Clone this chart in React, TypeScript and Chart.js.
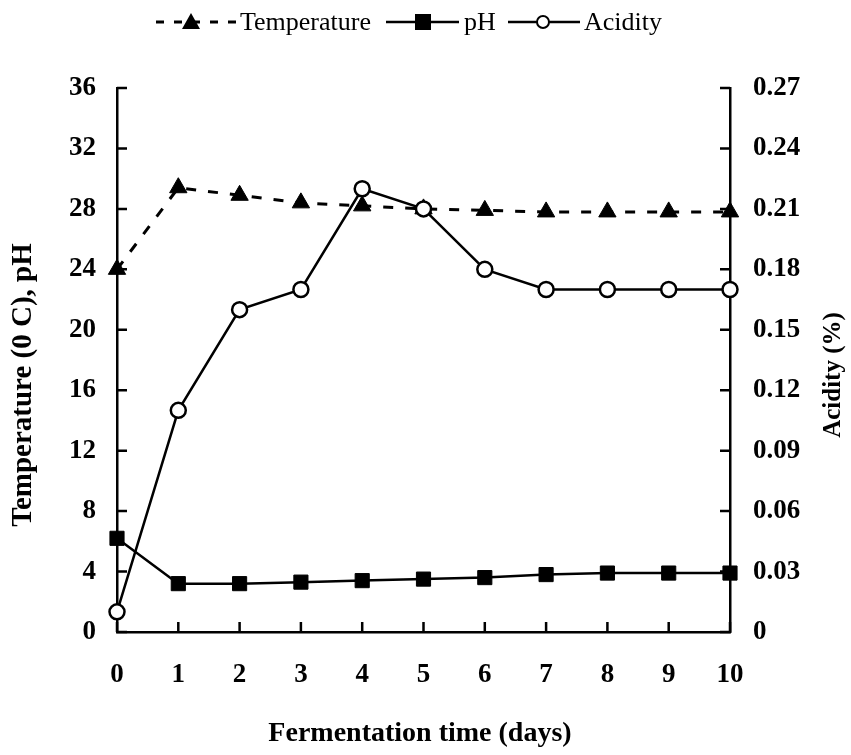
import React, { useEffect, useRef } from "react";
import { Chart, registerables } from "chart.js";

Chart.register(...registerables);

const days = [0, 1, 2, 3, 4, 5, 6, 7, 8, 9, 10];
const temperature = [24, 29.4, 28.9, 28.4, 28.2, 28, 27.9, 27.8, 27.8, 27.8, 27.8];
const pH = [6.2, 3.2, 3.2, 3.3, 3.4, 3.5, 3.6, 3.8, 3.9, 3.9, 3.9];
const acidity = [0.01, 0.11, 0.16, 0.17, 0.22, 0.21, 0.18, 0.17, 0.17, 0.17, 0.17];
const leftTicks = [0, 4, 8, 12, 16, 20, 24, 28, 32, 36];
const rightTicks = [0, 0.03, 0.06, 0.09, 0.12, 0.15, 0.18, 0.21, 0.24, 0.27];
const xTitle = "Fermentation time (days)";
const leftTitle = "Temperature (0 C), pH";
const rightTitle = "Acidity (%)";
const legendLabels = ["Temperature", "pH", "Acidity"];

const FONT = "'Liberation Serif', 'Times New Roman', serif";

const decorPlugin = {
  id: "decor",
  afterDraw(chart: any) {
    const ctx = chart.ctx;
    const area = chart.chartArea;
    const sx = chart.scales.x;
    const sy = chart.scales.y;
    const sy1 = chart.scales.y1;
    ctx.save();
    ctx.strokeStyle = "#000";
    ctx.lineWidth = 2.5;
    // inner tick marks
    ctx.beginPath();
    sy.ticks.forEach((t: any) => {
      const y = sy.getPixelForValue(t.value);
      ctx.moveTo(area.left, y);
      ctx.lineTo(area.left + 10, y);
    });
    sy1.ticks.forEach((t: any) => {
      const y = sy1.getPixelForValue(t.value);
      ctx.moveTo(area.right, y);
      ctx.lineTo(area.right - 10, y);
    });
    sx.ticks.forEach((t: any) => {
      const x = sx.getPixelForValue(t.value);
      ctx.moveTo(x, area.bottom);
      ctx.lineTo(x, area.bottom - 10);
    });
    ctx.stroke();

    // titles
    ctx.fillStyle = "#000";
    ctx.textAlign = "center";
    ctx.textBaseline = "middle";
    ctx.font = `bold 28px ${FONT}`;
    ctx.fillText(xTitle, 420, 734);
    ctx.save();
    ctx.font = `bold 29px ${FONT}`;
    ctx.translate(24, 385);
    ctx.rotate(-Math.PI / 2);
    ctx.fillText(leftTitle, 0, 0);
    ctx.restore();
    ctx.save();
    ctx.font = `bold 25px ${FONT}`;
    ctx.translate(834, 375);
    ctx.rotate(-Math.PI / 2);
    ctx.fillText(rightTitle, 0, 0);
    ctx.restore();

    // legend
    const ly = 22;
    ctx.font = `26px ${FONT}`;
    ctx.textAlign = "left";
    // Temperature
    ctx.lineWidth = 3;
    ctx.setLineDash([8, 10]);
    ctx.beginPath();
    ctx.moveTo(156, ly);
    ctx.lineTo(236, ly);
    ctx.stroke();
    ctx.setLineDash([]);
    ctx.beginPath();
    ctx.moveTo(191, ly - 9);
    ctx.lineTo(200, ly + 7);
    ctx.lineTo(182, ly + 7);
    ctx.closePath();
    ctx.fill();
    ctx.fillText(legendLabels[0], 240, ly + 1);
    // pH
    ctx.lineWidth = 2.5;
    ctx.beginPath();
    ctx.moveTo(386, ly);
    ctx.lineTo(459, ly);
    ctx.stroke();
    ctx.fillRect(415, ly - 8, 16, 16);
    ctx.fillText(legendLabels[1], 464, ly + 1);
    // Acidity
    ctx.beginPath();
    ctx.moveTo(508, ly);
    ctx.lineTo(580, ly);
    ctx.stroke();
    ctx.beginPath();
    ctx.arc(543, ly, 6, 0, Math.PI * 2);
    ctx.fillStyle = "#fff";
    ctx.fill();
    ctx.lineWidth = 2;
    ctx.stroke();
    ctx.fillStyle = "#000";
    ctx.fillText(legendLabels[2], 584, ly + 1);
    ctx.restore();
  },
};

export default function App() {
  const ref = useRef<HTMLCanvasElement | null>(null);
  useEffect(() => {
    if (!ref.current) return;
    const tickFont = { family: FONT, size: 27, weight: "bold" as const };
    const chart = new Chart(ref.current, {
      type: "line",
      data: {
        labels: days,
        datasets: [
          {
            label: legendLabels[0],
            data: days.map((d, i) => ({ x: d, y: temperature[i] })),
            yAxisID: "y",
            borderColor: "#000",
            backgroundColor: "#000",
            borderWidth: 3,
            borderDash: [10, 12],
            pointStyle: "triangle",
            pointRadius: 10,
            pointBorderWidth: 1,
            tension: 0,
            clip: false,
            order: 2,
          },
          {
            label: legendLabels[1],
            data: days.map((d, i) => ({ x: d, y: pH[i] })),
            yAxisID: "y",
            borderColor: "#000",
            backgroundColor: "#000",
            borderWidth: 2.5,
            pointStyle: "rect",
            pointRadius: 10,
            pointBorderWidth: 1,
            tension: 0,
            clip: false,
            order: 1,
          },
          {
            label: legendLabels[2],
            data: days.map((d, i) => ({ x: d, y: acidity[i] })),
            yAxisID: "y1",
            borderColor: "#000",
            backgroundColor: "#000",
            borderWidth: 2.5,
            pointStyle: "circle",
            pointRadius: 7.5,
            pointBackgroundColor: "#fff",
            pointBorderColor: "#000",
            pointBorderWidth: 2.5,
            tension: 0,
            clip: false,
            order: 0,
          },
        ],
      },
      options: {
        animation: false,
        responsive: false,
        maintainAspectRatio: false,
        layout: { padding: { top: 88, left: 0, right: 0, bottom: 0 } },
        plugins: { legend: { display: false }, tooltip: { enabled: false } },
        scales: {
          x: {
            type: "linear",
            min: 0,
            max: 10,
            afterBuildTicks: (s: any) => {
              s.ticks = days.map((v) => ({ value: v }));
            },
            afterFit: (s: any) => {
              s.height = 123;
            },
            grid: { drawOnChartArea: false, drawTicks: false },
            border: { display: true, color: "#000", width: 2.5 },
            ticks: {
              color: "#000",
              font: tickFont,
              padding: 27,
              maxRotation: 0,
              callback: (v: any) => String(v),
            },
          },
          y: {
            type: "linear",
            position: "left",
            min: 0,
            max: 36,
            afterBuildTicks: (s: any) => {
              s.ticks = leftTicks.map((v) => ({ value: v }));
            },
            afterFit: (s: any) => {
              s.width = 117;
            },
            grid: { drawOnChartArea: false, drawTicks: false },
            border: { display: true, color: "#000", width: 2.5 },
            ticks: { color: "#000", font: tickFont, padding: 21, callback: (v: any) => String(v) },
          },
          y1: {
            type: "linear",
            position: "right",
            min: 0,
            max: 0.27,
            afterBuildTicks: (s: any) => {
              s.ticks = rightTicks.map((v) => ({ value: v }));
            },
            afterFit: (s: any) => {
              s.width = 121;
            },
            grid: { drawOnChartArea: false, drawTicks: false },
            border: { display: true, color: "#000", width: 2.5 },
            ticks: {
              color: "#000",
              font: tickFont,
              padding: 23,
              callback: (v: any) => (Number(v) === 0 ? "0" : Number(v).toFixed(2)),
            },
          },
        },
      },
      plugins: [decorPlugin],
    } as any);
    return () => chart.destroy();
  }, []);
  return (
    <div style={{ position: "fixed", left: 0, top: 0, width: 851, height: 755, background: "#fff" }}>
      <canvas ref={ref} width={851} height={755} style={{ width: 851, height: 755 }} />
    </div>
  );
}
